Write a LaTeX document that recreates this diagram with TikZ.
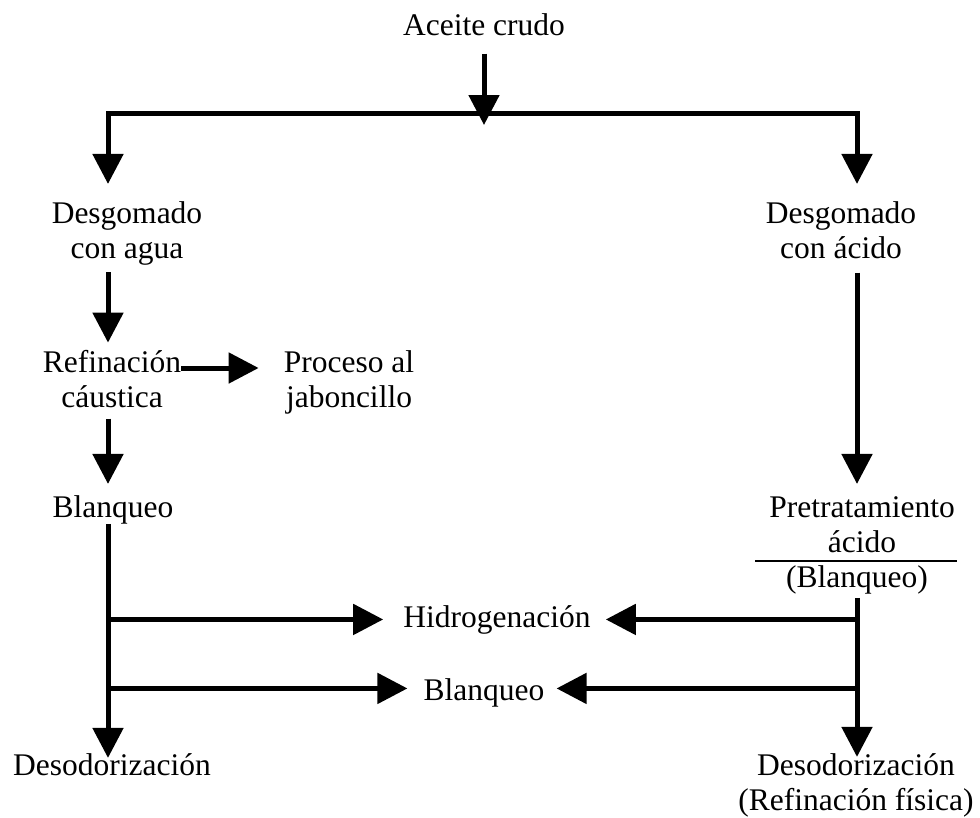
\documentclass[tikz,border=0pt]{standalone}
\usepackage{fontspec}
\setmainfont{Liberation Serif}
\usetikzlibrary{positioning,arrows.meta,calc}

\begin{document}
\begin{tikzpicture}[x=1pt, y=-1pt, font=\fontsize{31.5}{35}\selectfont,
  txt/.style={inner sep=0pt, anchor=base, align=center},
  lin/.style={line width=5pt},
  arr/.style={line width=5pt, -{Triangle[length=30pt, width=30pt]}},
  rule/.style={line width=2pt}]
\useasboundingbox (0,0) rectangle (980,817);
% labels (base = last line)
\node[txt] (crudo)  at (484,35)  {Aceite crudo};
\node[txt] (dagua)  at (127,258) {Desgomado\\con agua};
\node[txt] (dacido) at (841,258) {Desgomado\\con ácido};
\node[txt] (refi)   at (112,407) {Refinación\\cáustica};
\node[txt] (jabon)  at (349,407) {Proceso al\\jaboncillo};
\node[txt] (blanq)  at (113,517) {Blanqueo};
\node[txt] (pretra) at (862,552) {Pretratamiento\\ácido};
\node[txt] (pblanq) at (857,587) {(Blanqueo)};
\node[txt] (hidro)  at (497,627) {Hidrogenación};
\node[txt] (blanqb) at (484,700) {Blanqueo};
\node[txt] (desoa)  at (112,775) {Desodorización};
\node[txt] (desob)  at (856,810) {Desodorización\\(Refinación física)};
% columns and junctions
\coordinate (xl) at (108,0);
\coordinate (xr) at (857,0);
\coordinate (split) at (484,125);
\coordinate (hl) at (108,113);
\coordinate (hr) at (857,113);
\coordinate (ra) at (755,561);
\coordinate (rb) at (957,561);
% top split
\draw[arr, shorten <=18pt] (crudo.south) -- (split);
\draw[arr, shorten >=17pt] (hr) -- (hl) -- (hl |- dagua.north);
\draw[arr, shorten >=17pt] (hl) -- (hr) -- (hr |- dacido.north);
% left column
\draw[arr, shorten <=7pt, shorten >=7pt] (dagua.south -| xl) -- (refi.north -| xl);
\draw[arr, shorten >=25pt] ([yshift=39pt]refi.base east) -- ([yshift=39pt]jabon.base west);
\draw[arr, shorten <=11pt, shorten >=11pt] (refi.south -| xl) -- (blanq.north -| xl);
\draw[arr, shorten >=-5pt] (blanq.south -| xl) -- (desoa.north -| xl);
\draw[arr, shorten >=20pt] (hidro.west -| xl) -- (hidro.west);
\draw[arr, shorten >=16pt] ([yshift=4pt]blanqb.west -| xl) -- ([yshift=4pt]blanqb.west);
% right column
\draw[arr, shorten <=14pt, shorten >=12pt] (dacido.south -| xr) -- (pretra.north -| xr);
\draw[rule] (ra) -- (rb);
\draw[arr, shorten <=4pt, shorten >=-4pt] (pblanq.south -| xr) -- (desob.north -| xr);
\draw[arr, shorten >=15pt] (hidro.east -| xr) -- (hidro.east);
\draw[arr, shorten >=12pt] ([yshift=4pt]blanqb.east -| xr) -- ([yshift=4pt]blanqb.east);
\end{tikzpicture}
\end{document}
